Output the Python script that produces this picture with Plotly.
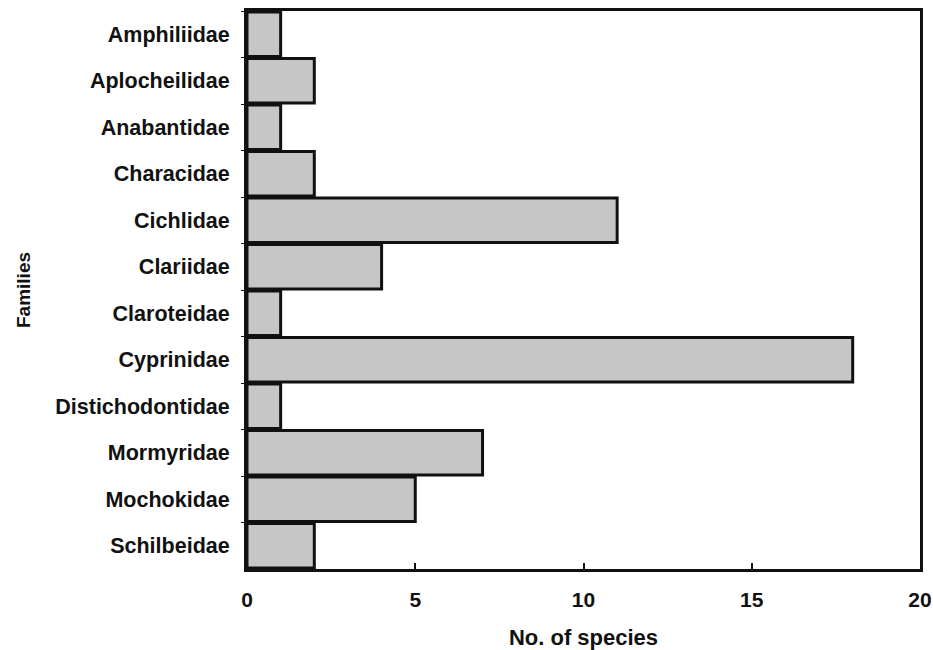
import plotly.graph_objects as go

families = ["Amphiliidae", "Aplocheilidae", "Anabantidae", "Characidae", "Cichlidae",
            "Clariidae", "Claroteidae", "Cyprinidae", "Distichodontidae", "Mormyridae",
            "Mochokidae", "Schilbeidae"]
species = [1, 2, 1, 2, 11, 4, 1, 18, 1, 7, 5, 2]
x_ticks = [0, 5, 10, 15, 20]

font_family = "Liberation Sans, Arial, sans-serif"

fig = go.Figure(go.Bar(
    x=species, y=families, orientation="h",
    marker=dict(color="#c6c6c6", line=dict(color="#111111", width=3)),
))

fig.update_layout(
    width=933, height=650,
    margin=dict(l=247, r=13, t=11, b=81),
    plot_bgcolor="white", paper_bgcolor="white",
    bargap=0.04,
    showlegend=False,
    font=dict(family=font_family, size=21, color="#111111", weight="bold"),
)
fig.update_xaxes(
    range=[0, 20], tickvals=x_ticks, ticktext=[str(v) for v in x_ticks],
    ticks="inside", ticklen=6, tickwidth=2, tickcolor="#111111",
    showline=True, linewidth=3, linecolor="#111111", mirror=True,
    showgrid=False, zeroline=False, automargin=False,
    ticklabelstandoff=10,
    tickfont=dict(family=font_family, size=21, weight="bold"),
    title=dict(text="No. of species", font=dict(family=font_family, size=22, weight="bold"), standoff=22),
)
fig.update_yaxes(
    categoryorder="array", categoryarray=families, autorange="reversed",
    ticks="outside", tickson="boundaries", ticklen=3, tickwidth=1, tickcolor="#111111",
    showline=True, linewidth=3, linecolor="#111111", mirror=True,
    showgrid=False, zeroline=False, automargin=False,
    ticklabelstandoff=10,
    tickfont=dict(family=font_family, size=21.5, weight="bold"),
    title=dict(text="Families", font=dict(family=font_family, size=19, weight="bold"), standoff=20),
)

# remove the default page margin so the 933x650 figure fills the window exactly
fig.write_html(
    "out.html",
    config={"displayModeBar": False},
    post_script="document.body.style.margin='0';document.body.style.overflow='hidden';",
)
